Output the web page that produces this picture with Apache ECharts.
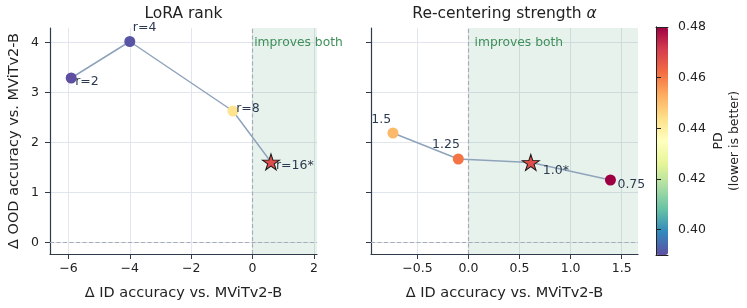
<!DOCTYPE html>
<html>
<head>
<meta charset="utf-8">
<title>LoRA rank / Re-centering strength</title>
<script src="https://cdn.jsdelivr.net/npm/echarts@6/dist/echarts.min.js"></script>
<style>html,body{margin:0;padding:0;background:#fff;}</style>
</head>
<body>
<div id="main" style="width:747px;height:308px;"></div>
<script type="text/javascript">
// left panel: LoRA rank sweep
var rankLabels = ['r=2', 'r=4', 'r=8', 'r=16*'];
var rankDeltaID = [-5.91, -4.0, -0.64, 0.6];
var rankDeltaOOD = [3.29, 4.02, 2.63, 1.61];
var rankPD = [0.390, 0.391, 0.443, 0.468];
var rankBest = [false, false, false, true];

// right panel: re-centering strength sweep
var alphaLabels = ['1.5', '1.25', '1.0*', '0.75'];
var alphaDeltaID = [-0.74, -0.10, 0.61, 1.39];
var alphaDeltaOOD = [2.19, 1.67, 1.60, 1.25];
var alphaPD = [0.451, 0.461, 0.468, 0.480];
var alphaBest = [false, false, true, false];

// axes
var rankXTicks = [-6, -4, -2, 0, 2];
var alphaXTicks = [-0.5, 0.0, 0.5, 1.0, 1.5];
var oodTicks = [0, 1, 2, 3, 4];
var pdTicks = [0.40, 0.42, 0.44, 0.46, 0.48];
var rankXRange = [-6.6, 2.1];
var alphaXRange = [-0.955, 1.66];
var oodRange = [-0.23, 4.29];
var pdRange = [0.39, 0.48];

// label placement (anchor = marker centre), kept apart from the data
var rankLabelPos = [['left', 4, 3.5], ['left', 3, -14], ['left', 3.3, -2.4], ['left', 5, 3.5]];
var alphaLabelPos = [['right', -1.7, -13.3], ['right', 1.6, -14], ['left', 12, 8.5], ['left', 7, 4.7]];

var SPECTRAL_R = ['#5e4fa2', '#3288bd', '#66c2a5', '#abdda4', '#e6f598', '#ffffbf',
                  '#fee08b', '#fdae61', '#f46d43', '#d53e4f', '#9e0142'];
var STAR = 'path://M0,-1L0.2245,-0.309L0.951,-0.309L0.363,0.118L0.588,0.809L0,0.382L-0.588,0.809L-0.363,0.118L-0.951,-0.309L-0.2245,-0.309Z';
var FONT = 'DejaVu Sans';
var INK = '#222';
var SPINE = '#2f3a4a';
var GRIDC = '#e1e6ee';
var LABELC = '#2c3a4f';
var GREEN = '#3f8f5a';

function minus(s) { return String(s).replace('-', '\u2212'); }

function lineData(xs, ys) {
  return xs.map(function (x, i) { return [x, ys[i]]; });
}

function pointData(xs, ys, pds, labels, best, pos) {
  return xs.map(function (x, i) {
    return {
      value: [x, ys[i], pds[i]],
      name: labels[i],
      symbol: best[i] ? STAR : 'circle',
      symbolSize: best[i] ? [17, 16] : 11,
      itemStyle: best[i] ? { borderColor: '#1a1a1a', borderWidth: 1, opacity: 1 } : { borderWidth: 0, opacity: 1 },
      label: {
        show: true, position: 'inside', formatter: labels[i],
        align: pos[i][0], verticalAlign: 'middle', offset: [pos[i][1], pos[i][2]],
        color: LABELC, fontSize: 12.5, fontFamily: FONT
      }
    };
  });
}

function xAxisFor(gi, range, ticks, fmt) {
  return {
    type: 'value', gridIndex: gi, min: range[0], max: range[1],
    name: '\u0394 ID accuracy vs. MViTv2-B', nameLocation: 'middle', nameGap: 31.5,
    nameTextStyle: { color: INK, fontSize: 14.5, fontFamily: FONT },
    axisLine: { show: true, onZero: false, lineStyle: { color: SPINE, width: 1.2 } },
    axisTick: { show: true, length: 5, lineStyle: { color: SPINE, width: 1 }, customValues: ticks },
    axisLabel: { color: INK, fontSize: 12.5, fontFamily: FONT, margin: 8, customValues: ticks, formatter: fmt },
    splitLine: { show: true, lineStyle: { color: GRIDC, width: 1 } }
  };
}

function yAxisFor(gi, showName) {
  return {
    type: 'value', gridIndex: gi, min: oodRange[0], max: oodRange[1],
    name: showName ? '\u0394 OOD accuracy vs. MViTv2-B' : '', nameLocation: 'middle', nameGap: 28,
    nameTextStyle: { color: INK, fontSize: 14.5, fontFamily: FONT },
    axisLine: { show: true, onZero: false, lineStyle: { color: SPINE, width: 1.2 } },
    axisTick: { show: true, length: 5, lineStyle: { color: SPINE, width: 1 }, customValues: oodTicks },
    axisLabel: { show: showName, color: INK, fontSize: 12.5, fontFamily: FONT, margin: 11, customValues: oodTicks },
    splitLine: { show: true, lineStyle: { color: GRIDC, width: 1 } }
  };
}

// frame edge of the colour bar
function barEdge(pos, range) {
  return {
    type: 'value', gridIndex: 2, position: pos, min: range[0], max: range[1], z: 10,
    axisLine: { show: true, onZero: false, lineStyle: { color: '#222', width: 1 } },
    axisTick: { show: false }, axisLabel: { show: false }, splitLine: { show: false }
  };
}

function guides(xMax, labelDx) {
  return {
    markArea: {
      silent: true,
      itemStyle: { color: 'rgba(46,139,87,0.11)' },
      label: {
        show: true, position: 'insideTopLeft', formatter: 'improves both',
        color: GREEN, fontSize: 12.3, fontFamily: FONT, offset: [labelDx, 4]
      },
      data: [[{ xAxis: 0 }, { xAxis: xMax }]]
    },
    markLine: {
      silent: true, symbol: ['none', 'none'],
      label: { show: false },
      lineStyle: { type: [4, 2.5], color: '#a4acb7', width: 1.2 },
      data: [{ xAxis: 0 }, { yAxis: 0 }]
    }
  };
}

var leftLine = Object.assign({
  type: 'line', xAxisIndex: 0, yAxisIndex: 0, z: 2,
  data: lineData(rankDeltaID, rankDeltaOOD), showSymbol: false, symbol: 'none',
  lineStyle: { color: '#8fa3bb', width: 1.5 }, silent: true
}, guides(rankXRange[1], -3.4));

var rightLine = Object.assign({
  type: 'line', xAxisIndex: 1, yAxisIndex: 1, z: 2,
  data: lineData(alphaDeltaID, alphaDeltaOOD), showSymbol: false, symbol: 'none',
  lineStyle: { color: '#8fa3bb', width: 1.5 }, silent: true
}, guides(alphaXRange[1], 1));

var echart = echarts.init(document.getElementById('main'), null, { renderer: 'canvas' });
var option = {
  animation: false,
  backgroundColor: '#fff',
  title: [
    { text: 'LoRA rank', left: 183.5, top: 6, textAlign: 'center', padding: 0,
      textStyle: { color: INK, fontSize: 15.5, fontWeight: 'normal', fontFamily: FONT } },
    { text: 'Re-centering strength {a|\u03b1}', left: 504.5, top: 6, textAlign: 'center', padding: 0,
      textStyle: { color: INK, fontSize: 15.5, fontWeight: 'normal', fontFamily: FONT,
        rich: { a: { fontStyle: 'italic', fontSize: 15.5, fontFamily: FONT, color: INK } } } }
  ],
  grid: [
    { left: 50, top: 28, width: 267, height: 226 },
    { left: 371, top: 28, width: 267, height: 226 },
    { left: 656, top: 27, width: 12, height: 228 }
  ],
  xAxis: [
    xAxisFor(0, rankXRange, rankXTicks, function (v) { return minus(v); }),
    xAxisFor(1, alphaXRange, alphaXTicks, function (v) { return minus(v.toFixed(1)); }),
    barEdge('bottom', [0, 1]),
    barEdge('top', [0, 1])
  ],
  yAxis: [
    yAxisFor(0, true),
    yAxisFor(1, false),
    {
      type: 'value', gridIndex: 2, position: 'right', min: pdRange[0], max: pdRange[1], z: 10,
      name: 'PD\n(lower is better)', nameLocation: 'middle', nameGap: 43, nameRotate: 90,
      nameTextStyle: { color: INK, fontSize: 12.5, fontFamily: FONT, lineHeight: 16, align: 'center' },
      axisLine: { show: true, lineStyle: { color: '#222', width: 1 } },
      axisTick: { show: true, length: 5, lineStyle: { color: '#222', width: 1 }, customValues: pdTicks },
      axisLabel: { color: INK, fontSize: 12.5, fontFamily: FONT, margin: 10, customValues: pdTicks,
        formatter: function (v) { return v.toFixed(2); } },
      splitLine: { show: false }
    },
    barEdge('left', pdRange)
  ],
  visualMap: {
    type: 'continuous', min: pdRange[0], max: pdRange[1], dimension: 2, seriesIndex: [1, 3],
    orient: 'vertical', left: 656, top: 27, itemWidth: 12, itemHeight: 228, padding: 0, z: 1,
    calculable: false, hoverLink: false, inRange: { color: SPECTRAL_R, opacity: 1 }
  },
  series: [
    leftLine,
    { type: 'scatter', xAxisIndex: 0, yAxisIndex: 0, z: 4, itemStyle: { opacity: 1 },
      data: pointData(rankDeltaID, rankDeltaOOD, rankPD, rankLabels, rankBest, rankLabelPos) },
    rightLine,
    { type: 'scatter', xAxisIndex: 1, yAxisIndex: 1, z: 4, itemStyle: { opacity: 1 },
      data: pointData(alphaDeltaID, alphaDeltaOOD, alphaPD, alphaLabels, alphaBest, alphaLabelPos) }
  ]
};
echart.setOption(option);
</script>
</body>
</html>
